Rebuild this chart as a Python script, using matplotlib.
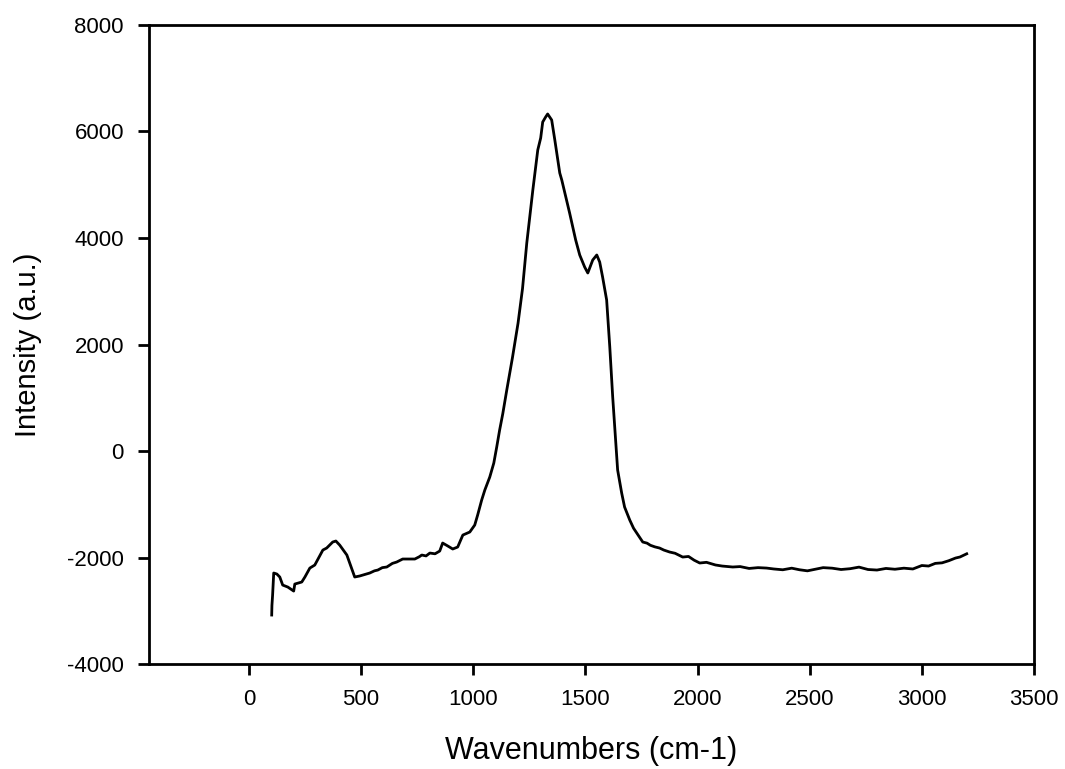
import matplotlib
matplotlib.use('Agg')
import matplotlib.pyplot as plt

# spectrum
wavenumber = [102, 103, 106, 111, 125, 138, 151, 174, 200, 205, 236, 250, 272, 294,
              330, 347, 374, 388, 405, 437, 472, 494, 515, 539, 560, 575, 595, 615,
              640, 659, 686, 740, 760, 771, 790, 807, 830, 851, 864, 887, 909, 931,
              954, 985, 1007, 1020, 1038, 1052, 1074, 1092, 1105, 1118, 1132, 1150,
              1175, 1200, 1220, 1239, 1266, 1288, 1301, 1310, 1323, 1332, 1350, 1364,
              1386, 1395, 1430, 1457, 1475, 1497, 1511, 1533, 1551, 1564, 1577, 1595,
              1609, 1622, 1635, 1644, 1662, 1675, 1698, 1715, 1729, 1745, 1756, 1775,
              1790, 1810, 1831, 1850, 1876, 1900, 1934, 1960, 1985, 2010, 2040, 2080,
              2110, 2157, 2190, 2230, 2270, 2308, 2340, 2380, 2420, 2455, 2490, 2530,
              2560, 2600, 2640, 2680, 2720, 2760, 2800, 2840, 2880, 2920, 2960, 3000,
              3030, 3060, 3090, 3120, 3150, 3170, 3190, 3200]
intensity = [-3080, -2900, -2705, -2291, -2310, -2366, -2517, -2555, -2630, -2498,
             -2460, -2366, -2198, -2141, -1860, -1822, -1709, -1690, -1766, -1953,
             -2366, -2347, -2320, -2291, -2250, -2235, -2190, -2178, -2110, -2085,
             -2028, -2028, -1985, -1953, -1970, -1916, -1930, -1878, -1728, -1784,
             -1840, -1803, -1578, -1521, -1390, -1202, -920, -733, -489, -226, 75,
             394, 700, 1150, 1750, 2400, 3050, 3906, 4901, 5653, 5878, 6178, 6272,
             6329, 6216, 5840, 5221, 5089, 4469, 3962, 3681, 3455, 3343, 3587, 3681,
             3549, 3267, 2836, 1953, 1014, 206, -357, -789, -1052, -1296, -1450,
             -1540, -1640, -1709, -1730, -1770, -1800, -1822, -1860, -1897, -1920,
             -1991, -1980, -2050, -2103, -2090, -2140, -2160, -2178, -2170, -2205,
             -2190, -2198, -2215, -2230, -2200, -2230, -2250, -2215, -2190, -2200,
             -2225, -2210, -2180, -2225, -2235, -2205, -2220, -2200, -2215, -2150,
             -2160, -2110, -2100, -2060, -2010, -1990, -1950, -1930]

plt.rcParams['font.family'] = ['Liberation Sans', 'DejaVu Sans']
plt.rcParams['axes.unicode_minus'] = False

fig = plt.figure(figsize=(10.65, 7.69), dpi=100)
ax = fig.add_axes([0.1399, 0.1365, 0.831, 0.831])

ax.plot(wavenumber, intensity, color='black', lw=2)

ax.set_xlim(-445, 3500)
ax.set_ylim(-4000, 8000)
ax.set_xticks([0, 500, 1000, 1500, 2000, 2500, 3000, 3500])
ax.set_yticks([-4000, -2000, 0, 2000, 4000, 6000, 8000])
ax.tick_params(direction='out', length=8, width=2, labelsize=16, pad=10,
               top=False, right=False)
for s in ax.spines.values():
    s.set_linewidth(2)

ax.set_xlabel('Wavenumbers (cm-1)', fontsize=22, labelpad=19)
ax.set_ylabel('Intensity (a.u.)', fontsize=21, labelpad=18)

fig.savefig('out.png', dpi=100)
